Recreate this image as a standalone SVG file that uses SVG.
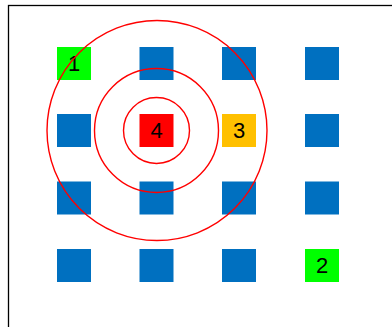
<svg xmlns="http://www.w3.org/2000/svg" width="392" height="327" viewBox="0 0 392 327">
<style>
.sq{fill:#0070C0}
.g{fill:#00FF00}
.r{fill:#FF0000}
.o{fill:#FFC000}
.ring{fill:none;stroke:#FF0000;stroke-width:1.4}
.t{font-family:"Liberation Sans",Arial,sans-serif;font-size:22px;fill:#000;text-anchor:middle;dominant-baseline:central}
</style>
<rect width="392" height="327" fill="#fff"/>
<rect x="8.5" y="5.5" width="420" height="400" fill="none" stroke="#000" stroke-width="1.3"/>
<g id="n1"><rect class="g" x="57" y="47" width="34" height="33"/><text class="t" x="74" y="63">1</text></g>
<g id="n-0-1"><rect class="sq" x="139.5" y="47" width="34" height="33"/></g>
<g id="n-0-2"><rect class="sq" x="222" y="47" width="34" height="33"/></g>
<g id="n-0-3"><rect class="sq" x="305" y="47" width="34" height="33"/></g>
<g id="n-1-0"><rect class="sq" x="57" y="114" width="34" height="33"/></g>
<g id="n4"><rect class="r" x="139.5" y="114" width="34" height="33"/><text class="t" x="156.5" y="130">4</text></g>
<g id="n3"><rect class="o" x="222" y="114" width="34" height="33"/><text class="t" x="239" y="130">3</text></g>
<g id="n-1-3"><rect class="sq" x="305" y="114" width="34" height="33"/></g>
<g id="n-2-0"><rect class="sq" x="57" y="181.5" width="34" height="33"/></g>
<g id="n-2-1"><rect class="sq" x="139.5" y="181.5" width="34" height="33"/></g>
<g id="n-2-2"><rect class="sq" x="222" y="181.5" width="34" height="33"/></g>
<g id="n-2-3"><rect class="sq" x="305" y="181.5" width="34" height="33"/></g>
<g id="n-3-0"><rect class="sq" x="57" y="249" width="34" height="33"/></g>
<g id="n-3-1"><rect class="sq" x="139.5" y="249" width="34" height="33"/></g>
<g id="n-3-2"><rect class="sq" x="222" y="249" width="34" height="33"/></g>
<g id="n2"><rect class="g" x="305" y="249" width="34" height="33"/><text class="t" x="322" y="265">2</text></g>
<g id="rings">
<circle class="ring" cx="156.5" cy="130.5" r="33"/>
<circle class="ring" cx="156.5" cy="130.5" r="62"/>
<circle class="ring" cx="157" cy="130.5" r="110"/>
</g>
</svg>
